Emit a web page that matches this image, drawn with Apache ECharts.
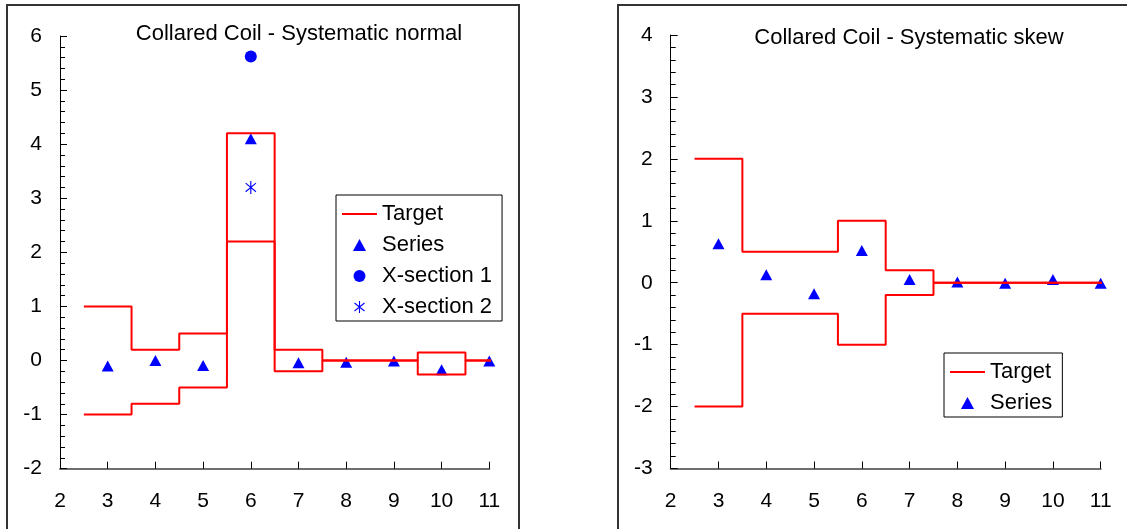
<!DOCTYPE html>
<html>
<head>
<meta charset="utf-8">
<script src="https://cdn.jsdelivr.net/npm/echarts@6/dist/echarts.min.js"></script>
<style>
html,body{margin:0;padding:0;background:#fff;}
#chart{width:1127px;height:529px;}
</style>
</head>
<body>
<div id="chart"></div>
<script>
// ---- data ----
const harmonics = [3, 4, 5, 6, 7, 8, 9, 10, 11];
const normalUpper = [1, 0.2, 0.5, 4.2, 0.2, 0, 0, 0.15, 0];
const normalLower = [-1, -0.8, -0.5, 2.2, -0.2, 0, 0, -0.26, 0];
const normalSeries = [-0.1, 0.0, -0.09, 4.1, -0.04, -0.03, -0.01, -0.17, -0.01];
const xSection1 = [[6, 5.62]];
const xSection2 = [[6, 3.2]];
const skewUpper = [2, 0.5, 0.5, 1, 0.2, 0, 0, 0, 0];
const skewLower = [-2, -0.5, -0.5, -1, -0.2, 0, 0, 0, 0];
const skewSeries = [0.63, 0.13, -0.18, 0.52, 0.05, 0.01, -0.01, 0.05, -0.01];
const targetStart = 2.5;
const targetEnd = 11.14;
const titles = ['Collared Coil - Systematic normal', 'Collared Coil - Systematic skew'];
const legendNormal = ['Target', 'Series', 'X-section 1', 'X-section 2'];
const legendSkew = ['Target', 'Series'];

// ---- helpers ----
function stepData(h, v) {
  const d = [[targetStart, v[0]]];
  h.forEach((x, i) => d.push([x, v[i]]));
  d.push([targetEnd, v[v.length - 1]]);
  return d;
}
function pts(h, v) { return h.map((x, i) => [x, v[i]]); }

const FONT = 'Liberation Sans, Arial, sans-serif';
const RED = '#FF0000', BLUE = '#0000FF';
const STAR = 'path://M4.45 0L5.55 0L5.55 12L4.45 12Z M0.34 1.57L10.34 9.57L9.66 10.43L-0.34 2.43Z M-0.34 9.57L9.66 1.57L10.34 2.43L0.34 10.43Z';
const TRI = 'path://M6 0L12 11L0 11Z';
const DASH = 'path://M0 0L35 0L35 2.2L0 2.2Z';
const ICONS = {'Target': DASH, 'Series': TRI, 'X-section 1': 'circle', 'X-section 2': STAR};

function xAxisCfg(gi) {
  return {
    gridIndex: gi, type: 'value', min: 2, max: 11, interval: 1,
    axisLine: {show: true, onZero: false, lineStyle: {color: '#6e6e6e', width: 2}},
    axisTick: {show: true, inside: true, length: 7, lineStyle: {color: '#000', width: 1}},
    axisLabel: {margin: 22, fontSize: 21, color: '#000', fontFamily: FONT},
    splitLine: {show: false}
  };
}
function yAxisCfg(gi, mn, mx) {
  return {
    gridIndex: gi, type: 'value', min: mn, max: mx, interval: 1,
    axisLine: {show: true, onZero: false, lineStyle: {color: '#000', width: 1}},
    axisTick: {show: true, inside: true, length: 7, lineStyle: {color: '#000', width: 1}},
    minorTick: {show: true, splitNumber: 5, length: 5, lineStyle: {color: '#000', width: 1}},
    axisLabel: {margin: 18, fontSize: 21, color: '#000', fontFamily: FONT},
    splitLine: {show: false}, minorSplitLine: {show: false}
  };
}
function lineSeries(gi, data) {
  return {
    name: 'Target', type: 'line', xAxisIndex: gi, yAxisIndex: gi,
    step: 'middle', symbol: 'none', clip: false, data: data,
    lineStyle: {color: RED, width: 2}, itemStyle: {color: RED}
  };
}
function scatter(gi, name, data, symbol, size) {
  return {
    name: name, type: 'scatter', xAxisIndex: gi, yAxisIndex: gi,
    symbol: symbol, symbolSize: size, data: data,
    itemStyle: {color: BLUE, opacity: 1}
  };
}
function legendCfg(names, left, top, pad) {
  return {
    data: names.map(n => ({name: n, icon: ICONS[n]})),
    orient: 'vertical', left: left, top: top,
    itemWidth: 35, itemHeight: 12, itemGap: 9, padding: pad,
    symbolKeepAspect: true,
    borderColor: '#000', borderWidth: 1, backgroundColor: '#fff',
    textStyle: {fontSize: 22, color: '#000', fontFamily: FONT},
    selectedMode: false
  };
}

const chart = echarts.init(document.getElementById('chart'), null, {renderer: 'canvas'});
chart.setOption({
  animation: false,
  backgroundColor: '#fff',
  textStyle: {fontFamily: FONT},
  grid: [
    {left: 60, top: 36, width: 429.3, height: 432.7},
    {left: 670.7, top: 35, width: 430, height: 433.5}
  ],
  xAxis: [xAxisCfg(0), xAxisCfg(1)],
  yAxis: [yAxisCfg(0, -2, 6), yAxisCfg(1, -3, 4)],
  legend: [
    legendCfg(legendNormal, 336, 195, [8, 10, 3, 6]),
    legendCfg(legendSkew, 944, 353, [8, 10, 3, 6])
  ],
  graphic: [
    {type: 'rect', shape: {x: 7, y: 5, width: 512, height: 600}, style: {fill: 'none', stroke: '#333', lineWidth: 2}, silent: true, z: -1},
    {type: 'rect', shape: {x: 618, y: 5, width: 600, height: 600}, style: {fill: 'none', stroke: '#333', lineWidth: 2}, silent: true, z: -1},
    {type: 'text', x: 299, y: 34, style: {text: titles[0], fontSize: 22, fontFamily: FONT, fill: '#000', align: 'center', verticalAlign: 'middle'}},
    {type: 'text', x: 909, y: 38, style: {text: titles[1], fontSize: 22, fontFamily: FONT, fill: '#000', align: 'center', verticalAlign: 'middle'}}
  ],
  series: [
    lineSeries(0, stepData(harmonics, normalUpper)),
    lineSeries(0, stepData(harmonics, normalLower)),
    scatter(0, 'Series', pts(harmonics, normalSeries), 'triangle', [12, 11]),
    scatter(0, 'X-section 1', xSection1, 'circle', 12),
    scatter(0, 'X-section 2', xSection2, STAR, [11, 13]),
    lineSeries(1, stepData(harmonics, skewUpper)),
    lineSeries(1, stepData(harmonics, skewLower)),
    scatter(1, 'Series', pts(harmonics, skewSeries), 'triangle', [12, 11])
  ]
});
</script>
</body>
</html>
